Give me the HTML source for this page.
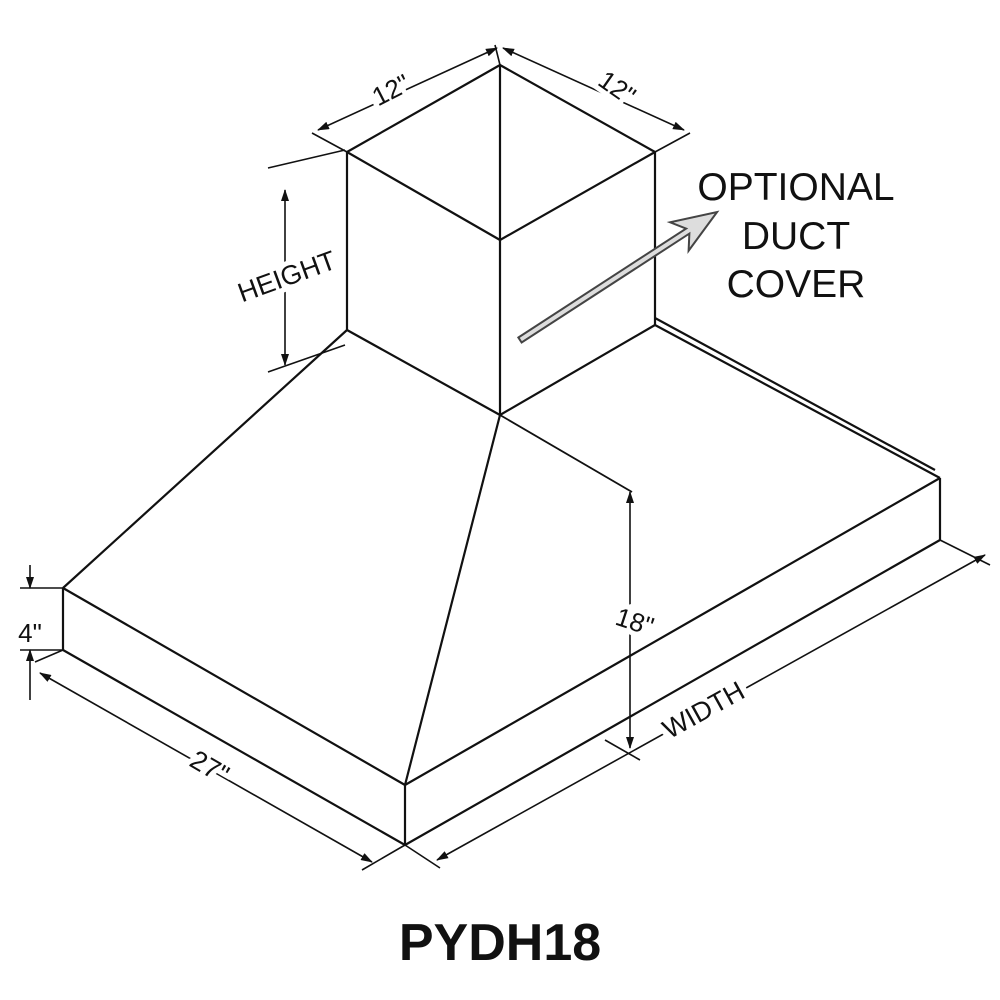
<!DOCTYPE html>
<html><head><meta charset="utf-8"><style>
html,body{margin:0;padding:0;background:#fff;width:1000px;height:1000px;overflow:hidden}
svg{display:block}
text{font-family:"Liberation Sans",sans-serif;fill:#111}
</style></head><body>
<svg width="1000" height="1000" viewBox="0 0 1000 1000" xmlns="http://www.w3.org/2000/svg">
<defs>
<marker id="a" markerWidth="12" markerHeight="8" refX="11" refY="4" orient="auto-start-reverse" markerUnits="userSpaceOnUse">
<path d="M0,0 L12,4 L0,8 Z" fill="#111"/></marker>
</defs>
<g stroke="#111" stroke-width="2.2" fill="none" stroke-linejoin="round">
<path d="M500,65 L347,152 L500,240 L655,152 Z"/>
<path d="M500,65 V240"/>
<path d="M347,152 V330 M500,240 V415 M655,152 V325"/>
<path d="M347,330 L500,415 L655,325"/>
<path d="M347,330 L63,588 M500,415 L405,785 M655,325 L940,478 M655,318 L935,470"/>
<path d="M63,588 L405,785 L940,478"/>
<path d="M63,650 L405,845 L940,540"/>
<path d="M63,588 V650 M405,785 V845 M940,478 V540"/>
<path d="M500,415 L632,492" stroke-width="1.8"/>
</g>
<g stroke="#111" stroke-width="1.6" fill="none">
<path d="M318,130 L497,48" marker-start="url(#a)" marker-end="url(#a)"/>
<path d="M347,152 L312,133 M500,65 L495,45"/>
<path d="M503,48 L684,130" marker-start="url(#a)" marker-end="url(#a)"/>
<path d="M655,152 L690,133"/>
<path d="M285,190 V365" marker-start="url(#a)" marker-end="url(#a)"/>
<path d="M268,168 L345,150 M268,372 L345,345"/>
<path d="M630,492 V748" marker-start="url(#a)" marker-end="url(#a)"/>
<path d="M605,740 L640,760"/>
<path d="M30,565 V588" marker-end="url(#a)"/>
<path d="M30,700 V650" marker-end="url(#a)"/>
<path d="M20,588 H63 M20,650 H63"/>
<path d="M40,673 L372,862" marker-start="url(#a)" marker-end="url(#a)"/>
<path d="M35,662 L63,650 M405,845 L362,870"/>
<path d="M437,860 L985,555" marker-start="url(#a)" marker-end="url(#a)"/>
<path d="M940,540 L990,565 M405,845 L440,868"/>
</g>
<g transform="translate(520,340) rotate(-33)">
<path d="M0,-3 L200,-3 L190,-17 L235,0 L190,17 L200,3 L0,3 Z" fill="#ddd" stroke="#444" stroke-width="2"/>
</g>
<text x="395" y="98" font-size="26" text-anchor="middle" transform="rotate(-27 395 98)" stroke="#fff" stroke-width="10">12"</text>
<text x="395" y="98" font-size="26" text-anchor="middle" transform="rotate(-27 395 98)">12"</text>
<text x="612" y="95" font-size="26" text-anchor="middle" transform="rotate(35 612 95)" stroke="#fff" stroke-width="10">12"</text>
<text x="612" y="95" font-size="26" text-anchor="middle" transform="rotate(35 612 95)">12"</text>
<text x="290" y="285" font-size="27" text-anchor="middle" transform="rotate(-20 290 285)" stroke="#fff" stroke-width="10">HEIGHT</text>
<text x="290" y="285" font-size="27" text-anchor="middle" transform="rotate(-20 290 285)">HEIGHT</text>
<text x="632" y="630" font-size="26" text-anchor="middle" transform="rotate(18 632 630)" stroke="#fff" stroke-width="10">18"</text>
<text x="632" y="630" font-size="26" text-anchor="middle" transform="rotate(18 632 630)">18"</text>
<text x="30" y="642" font-size="26" text-anchor="middle">4"</text>
<text x="205" y="775" font-size="27" text-anchor="middle" transform="rotate(30 205 775)" stroke="#fff" stroke-width="10">27"</text>
<text x="205" y="775" font-size="27" text-anchor="middle" transform="rotate(30 205 775)">27"</text>
<text x="708" y="718" font-size="27" text-anchor="middle" transform="rotate(-29 708 718)" stroke="#fff" stroke-width="12">WIDTH</text>
<text x="708" y="718" font-size="27" text-anchor="middle" transform="rotate(-29 708 718)">WIDTH</text>
<text x="796" y="200" font-size="39" text-anchor="middle">OPTIONAL</text>
<text x="796" y="249" font-size="39" text-anchor="middle">DUCT</text>
<text x="796" y="297" font-size="39" text-anchor="middle">COVER</text>
<text x="500" y="960" font-size="52" font-weight="bold" text-anchor="middle">PYDH18</text>
</svg>
</body></html>
